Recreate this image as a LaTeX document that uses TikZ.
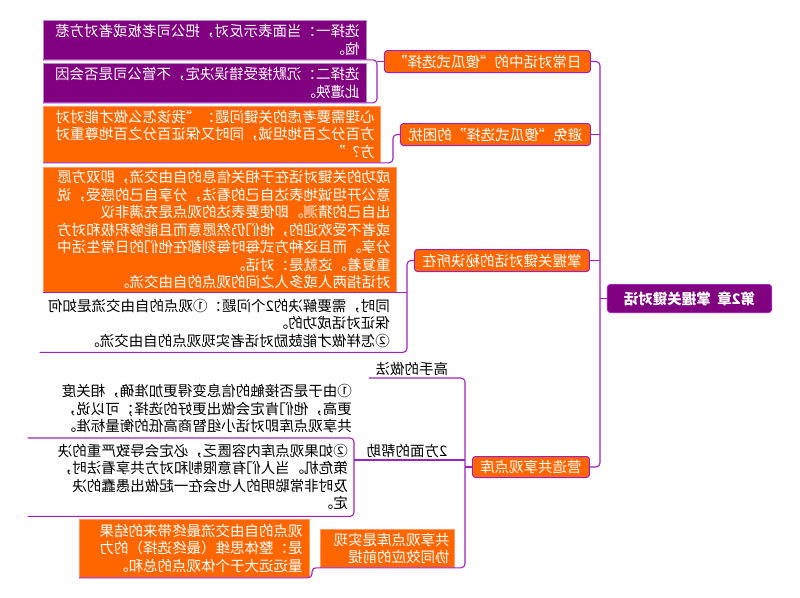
\documentclass[tikz,border=0pt]{standalone}
\usepackage{fontspec}
\setmainfont{Noto Sans CJK SC}
\definecolor{mor}{HTML}{FF6600}
\definecolor{mpu}{HTML}{800080}
\definecolor{mln}{HTML}{A020C0}
\definecolor{mlo}{HTML}{FF9966}
\definecolor{mlp}{HTML}{B58BC5}
\newcommand\mfs{\fontsize{14.5}{17.5}\selectfont}
\begin{document}
\begin{tikzpicture}[xscale=-1, x=1pt, y=-1pt,
  every node/.style={transform shape, font=\mfs},
  conn/.style={draw=mln, line width=1.1pt},
  lvlone/.style={anchor=north west, draw=mln, line width=1pt, fill=mor, text=white, rounded corners=3pt, inner sep=0pt, align=center},
  rootbox/.style={anchor=north west, draw=mln, line width=1pt, fill=mpu, text=white, rounded corners=3pt, inner sep=0pt, align=center, font=\mfs\bfseries},
  pbox/.style={anchor=north west, draw=mlp, line width=0.8pt, fill=mpu, text=white, inner xsep=7pt, inner ysep=0pt, align=left},
  obox/.style={anchor=north west, draw=mlo, line width=0.8pt, fill=mor, text=white, inner xsep=6pt, inner ysep=0pt, align=left},
  wbox/.style={anchor=north west, text=black, inner xsep=7pt, inner ysep=0pt, align=left},
  lab/.style={anchor=south, text=black, inner xsep=0pt, inner ysep=2pt}
]
\useasboundingbox (0,0) rectangle (800,597);

% root and level one
\node[rootbox, minimum width=164pt, minimum height=28pt] (R) at (28,284) {第2章\ \ 掌握关键对话};
\node[lvlone, minimum width=206pt, minimum height=22pt] (B1) at (209,50) {日常对话中的“傻瓜式选择”};
\node[lvlone, minimum width=190pt, minimum height=22pt] (B2) at (209,123) {避免“傻瓜式选择”的困扰};
\node[lvlone, minimum width=175pt, minimum height=22pt] (B3) at (210,249) {掌握关键对话的秘诀所在};
\node[lvlone, minimum width=117pt, minimum height=21pt] (B4) at (210,456) {营造共享观点库};

% branch 1 children
\node[pbox, text width=309pt, minimum height=39pt] (P1) at (433,20) {选择一：当面表示反对，把公司老板或者对方惹\\恼。};
\node[pbox, text width=309pt, minimum height=39pt] (P2) at (433,63) {选择二：沉默接受错误决定，不管公司是否会因\\此遭殃。};

% branch 2 child
\node[obox, text width=325pt, minimum height=56pt] (O2) at (419,106) {心理需要考虑的关键问题：“我该怎么做才能对对\\方百分之百地坦诚，同时又保证百分之百地尊重对\\方？”};

% branch 3 children
\node[obox, text width=341pt, minimum height=125pt] (O3) at (403,167) {成功的关键对话在于相关信息的自由交流，即双方愿\\意公开坦诚地表达自己的看法，分享自己的感受，说\\出自己的猜测。即使要表达的观点是充满非议\\或者不受欢迎的，他们仍然愿意而且能够积极和对方\\分享。而且这种方式每时每刻都在他们的日常生活中\\重复着。这就是：对话。\\对话指两人或多人之间的观点的自由交流。};
\node[wbox, text width=343pt, minimum height=58pt] (W3) at (403,294) {同时，需要解决的2个问题：①观点的自由交流是如何\\保证对话成功的。\\②怎样做才能鼓励对话者实现观点的自由交流。};

% branch 4 children
\node[lab, minimum width=86pt] (L1) at (388,378) {高手的做法};
\node[wbox, inner xsep=8pt, text width=316pt, minimum height=57pt] (W41) at (440,380) {①由于是否接触的信息变得更加准确，相关度\\更高，他们肯定会做出更好的选择；可以说，\\共享观点库即对话小组智商高低的衡量标准。};
\node[lab, minimum width=88pt] (L2) at (393,460) {2方面的帮助};
\node[wbox, inner xsep=6pt, text width=314pt, minimum height=78pt] (W42) at (446,438) {②如果观点库内容匮乏，必定会导致严重的决\\策危机。当人们有意限制和对方共享看法时，\\及时非常聪明的人也会在一起做出愚蠢的决\\定。};
\node[obox, inner xsep=5pt, text width=124pt, minimum height=38pt] (O4a) at (345,529) {共享观点库是实现\\协同效应的前提};
\node[obox, inner xsep=7pt, text width=216pt, minimum height=58pt] (O4b) at (490,519) {观点的自由交流最终带来的结果\\是：整体思维（最终选择）的力\\量远远大于个体观点的总和。};

% connectors
\coordinate (T) at (200,0);
\draw[conn, rounded corners=4pt] (B1.west) -- (B1.west -| T) -- (B4.west -| T) -- (B4.west);
\draw[conn] (R.east) -- (R.east -| T);
\draw[conn] (B2.west) -- (B2.west -| T);
\draw[conn] (B3.west) -- (B3.west -| T);

\coordinate (C1) at (423,0);
\draw[conn] (B1.east) -- (B1.east -| C1);
\draw[conn, rounded corners=4pt] (P1.south east) -- (P1.south -| C1) -- (P2.south -| C1) -- (P2.south east);

\coordinate (C2) at (407,0);
\draw[conn, rounded corners=4pt] (B2.east) -- (B2.east -| C2) -- (O2.south -| C2) -- (O2.south east);

\coordinate (C3) at (393,0);
\draw[conn, rounded corners=4pt] (B3.east) -- (B3.east -| C3) -- (W3.south -| C3) -- (W3.south east);
\draw[conn] (O3.south -| C3) -- (O3.south east);

\coordinate (C4) at (335,0);
\coordinate (K) at (488,0);
\draw[conn] (B4.east) -- (B4.east -| C4);
\draw[conn, rounded corners=4pt] (L1.south east) -- (L1.south -| C4) -- (O4a.south -| C4) -- (O4a.south -| K) -- (O4b.south -| K) -- (O4b.south east);
\draw[conn] (L2.south -| C4) -- (L2.south -| W42.west);
\draw[conn, rounded corners=4pt] (W42.north east) -- (W42.north west) -- (W42.south west) -- (W42.south east);
\end{tikzpicture}
\end{document}
